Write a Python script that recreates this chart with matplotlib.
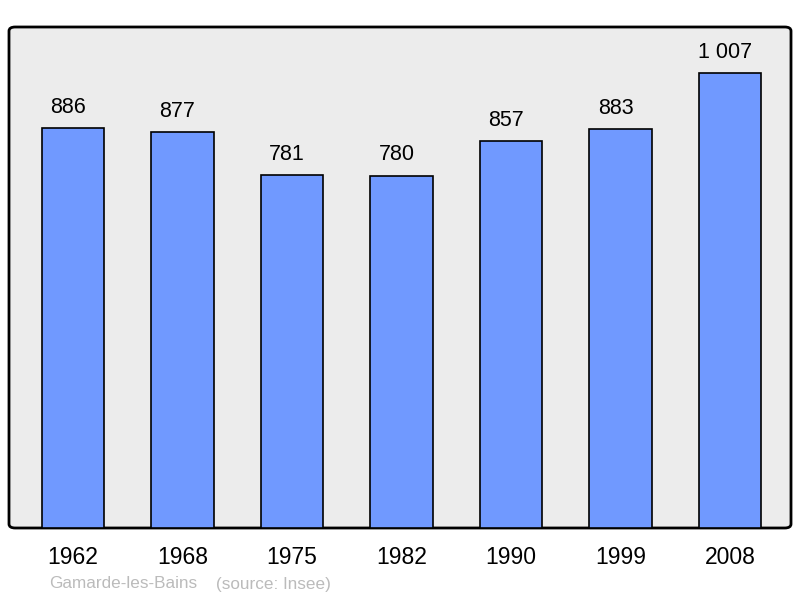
import matplotlib.pyplot as plt
from matplotlib.patches import FancyBboxPatch

plt.rcParams['font.family'] = ['Liberation Sans', 'DejaVu Sans']

# Données
annees = ['1962', '1968', '1975', '1982', '1990', '1999', '2008']
population = [886, 877, 781, 780, 857, 883, 1007]
etiquettes = ['886', '877', '781', '780', '857', '883', '1 007']

fig = plt.figure(figsize=(8, 5.98), dpi=100)
ax = fig.add_axes([9 / 800, 1 - 528 / 598, 782 / 800, 501 / 598])
ax.set_facecolor('none')

# Cadre gris aux coins arrondis
cadre = FancyBboxPatch((0, 0), 1, 1,
                       boxstyle='round,pad=0,rounding_size=0.008',
                       transform=ax.transAxes, facecolor='#ececec',
                       edgecolor='black', linewidth=2, zorder=0, clip_on=False)
ax.add_patch(cadre)

x = range(len(annees))
ax.bar(x, population, width=0.572, color='#7099ff', edgecolor='black',
       linewidth=1.2, zorder=2)

# Étiquettes des valeurs (légèrement décalées à gauche, comme l'original)
for i, (v, t) in enumerate(zip(population, etiquettes)):
    ax.annotate(t, (i, v), xytext=(-3.6, 15), textcoords='offset points',
                ha='center', va='center', fontsize=15.5)

ax.set_xlim(-0.584, 6.557)
ax.set_ylim(0, 501 / 0.4515)
ax.set_xticks(list(x))
ax.set_xticklabels(annees, fontsize=16.5)
ax.tick_params(axis='x', length=0, pad=13)
ax.set_yticks([])
for s in ax.spines.values():
    s.set_visible(False)

fig.text(49 / 800, 1 - 584 / 598, 'Gamarde-les-Bains', color='#bbbbbb',
         fontsize=12.3, va='center')
fig.text(216 / 800, 1 - 584 / 598, '(source: Insee)', color='#bbbbbb',
         fontsize=12.3, va='center')

plt.savefig('out.png', dpi=100)
